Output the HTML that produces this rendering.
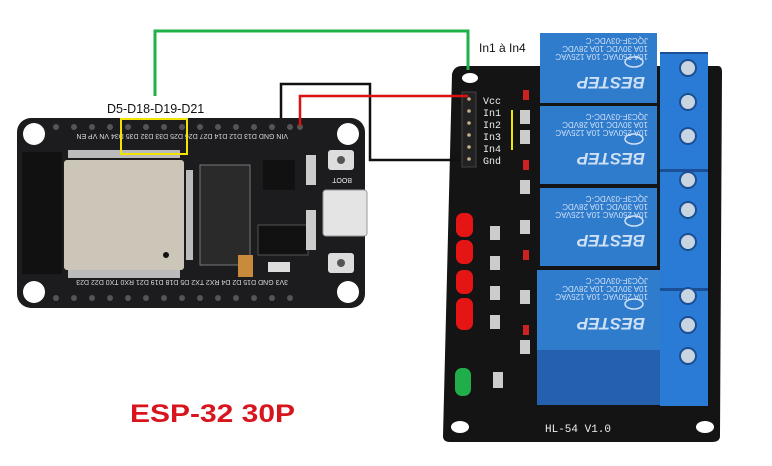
<!DOCTYPE html>
<html><head><meta charset="utf-8"><style>html,body{margin:0;padding:0;background:#fff}svg{display:block}</style></head>
<body>
<svg width="772" height="466" viewBox="0 0 772 466" xmlns="http://www.w3.org/2000/svg" font-family="Liberation Sans, sans-serif">
<rect width="772" height="466" fill="#fff"/>
<!-- ESP32 board -->
<rect x="17" y="118" width="348" height="190" rx="14" fill="#1c1c1e"/>
<g fill="#fff"><circle cx="34" cy="134" r="11"/><circle cx="348" cy="134" r="11"/><circle cx="34" cy="292" r="11"/><circle cx="348" cy="292" r="11"/></g>
<g fill="#555">
<circle cx="56" cy="127" r="3"/><circle cx="74" cy="127" r="3"/><circle cx="92" cy="127" r="3"/><circle cx="110" cy="127" r="3"/><circle cx="128" cy="127" r="3"/><circle cx="146" cy="127" r="3"/><circle cx="164" cy="127" r="3"/><circle cx="182" cy="127" r="3"/><circle cx="200" cy="127" r="3"/><circle cx="218" cy="127" r="3"/><circle cx="236" cy="127" r="3"/><circle cx="254" cy="127" r="3"/><circle cx="272" cy="127" r="3"/><circle cx="290" cy="127" r="3"/><circle cx="300" cy="127" r="3"/>
<circle cx="56" cy="298" r="3"/><circle cx="74" cy="298" r="3"/><circle cx="92" cy="298" r="3"/><circle cx="110" cy="298" r="3"/><circle cx="128" cy="298" r="3"/><circle cx="146" cy="298" r="3"/><circle cx="164" cy="298" r="3"/><circle cx="182" cy="298" r="3"/><circle cx="200" cy="298" r="3"/><circle cx="218" cy="298" r="3"/><circle cx="236" cy="298" r="3"/><circle cx="254" cy="298" r="3"/><circle cx="272" cy="298" r="3"/><circle cx="290" cy="298" r="3"/>
</g>
<text x="52" y="140" font-size="7" fill="#ddd" transform="rotate(180 170 137)">VIN GND D13 D12 D14 D27 D26 D25 D33 D32 D35 D34 VN VP EN</text>
<text x="52" y="286" font-size="7" fill="#ddd" transform="rotate(180 170 283)">3V3 GND D15 D2 D4 RX2 TX2 D5 D18 D19 D21 RX0 TX0 D22 D23</text>
<rect x="22" y="152" width="40" height="122" fill="#111"/>
<rect x="64" y="160" width="120" height="110" rx="3" fill="#cbc6b8"/>
<circle cx="166" cy="255" r="3" fill="#111"/>
<g fill="#bbb"><rect x="68" y="150" width="112" height="8"/><rect x="68" y="270" width="112" height="8"/><rect x="186" y="170" width="7" height="90"/></g>
<rect x="200" y="165" width="50" height="100" fill="#2a2a2a" stroke="#777" stroke-width="1"/>
<rect x="263" y="160" width="32" height="30" fill="#111"/>
<rect x="258" y="225" width="50" height="30" fill="#111" stroke="#555"/>
<rect x="238" y="255" width="15" height="22" fill="#c98a3c"/>
<rect x="268" y="262" width="22" height="10" fill="#ddd"/>
<rect x="328" y="150" width="26" height="20" rx="3" fill="#ddd"/><circle cx="341" cy="160" r="4" fill="#555"/>
<rect x="323" y="190" width="44" height="46" rx="3" fill="#e4e4e4" stroke="#999"/>
<rect x="328" y="253" width="26" height="20" rx="3" fill="#ddd"/><circle cx="341" cy="263" r="4" fill="#555"/>
<text x="334" y="182" font-size="7" fill="#eee" transform="rotate(180 343 180)">BOOT</text>
<rect x="306" y="155" width="10" height="30" fill="#ccc"/><rect x="306" y="210" width="10" height="40" fill="#ccc"/>
<rect x="121" y="119" width="66" height="35" fill="none" stroke="#f2e600" stroke-width="2"/>
<!-- relay board -->
<path d="M462 66 L718 66 Q722 66 722 72 L720 436 Q720 442 712 442 L450 442 Q443 442 443 436 L452 74 Q454 66 462 66 Z" fill="#141414"/>
<g fill="#fff"><ellipse cx="460" cy="427" rx="9" ry="6"/><ellipse cx="705" cy="427" rx="9" ry="6"/><ellipse cx="470" cy="78" rx="8" ry="5"/></g>
<rect x="462" y="92" width="14" height="75" fill="#222" stroke="#444"/>
<g fill="#c9b08a"><circle cx="469" cy="99" r="1.8"/><circle cx="469" cy="111" r="1.8"/><circle cx="469" cy="123" r="1.8"/><circle cx="469" cy="135" r="1.8"/><circle cx="469" cy="147" r="1.8"/><circle cx="469" cy="159" r="1.8"/></g>
<g font-family="Liberation Mono, monospace" font-size="10" fill="#eee">
<text x="483" y="104">Vcc</text><text x="483" y="116">In1</text><text x="483" y="128">In2</text><text x="483" y="140">In3</text><text x="483" y="152">In4</text><text x="483" y="164">Gnd</text>
</g>
<line x1="512" y1="110" x2="512" y2="150" stroke="#f2e600" stroke-width="2"/>
<g fill="#ccc"><rect x="520" y="110" width="10" height="14"/><rect x="520" y="130" width="10" height="14"/><rect x="520" y="180" width="10" height="14"/><rect x="520" y="220" width="10" height="14"/><rect x="520" y="290" width="10" height="14"/><rect x="520" y="340" width="10" height="14"/><rect x="490" y="226" width="10" height="14"/><rect x="490" y="256" width="10" height="14"/><rect x="490" y="286" width="10" height="14"/><rect x="490" y="315" width="10" height="14"/><rect x="493" y="372" width="10" height="16"/></g>
<g fill="#c22"><rect x="523" y="90" width="6" height="10"/><rect x="523" y="160" width="6" height="10"/><rect x="523" y="250" width="6" height="10"/><rect x="523" y="325" width="6" height="10"/></g>
<g fill="#e51515"><rect x="456" y="213" width="17" height="24" rx="7"/><rect x="456" y="240" width="17" height="24" rx="7"/><rect x="456" y="270" width="17" height="24" rx="7"/><rect x="456" y="298" width="17" height="32" rx="7"/></g>
<rect x="455" y="368" width="16" height="28" rx="7" fill="#1fae4a"/>
<!-- relays -->
<g fill="#2f7bcc">
<rect x="540" y="33" width="117" height="70"/>
<rect x="540" y="106" width="117" height="78"/>
<rect x="540" y="188" width="117" height="78"/>
<rect x="537" y="270" width="123" height="80"/>
</g>
<rect x="537" y="350" width="123" height="55" fill="#2460ad"/>
<g fill="#cfe0f5" font-weight="bold" font-style="italic">
<text font-size="17" transform="translate(645 77) rotate(180)">BESTEP</text>
<text font-size="17" transform="translate(645 153) rotate(180)">BESTEP</text>
<text font-size="17" transform="translate(645 235) rotate(180)">BESTEP</text>
<text font-size="17" transform="translate(645 318) rotate(180)">BESTEP</text>
</g>
<g fill="#cfe0f5" font-size="8">
<text transform="translate(648 38) rotate(180)">JQC3F-03VDC-C</text>
<text transform="translate(648 46) rotate(180)">10A 30VDC 10A 28VDC</text>
<text transform="translate(648 54) rotate(180)">10A 250VAC 10A 125VAC</text>
<text transform="translate(648 114) rotate(180)">JQC3F-03VDC-C</text>
<text transform="translate(648 122) rotate(180)">10A 30VDC 10A 28VDC</text>
<text transform="translate(648 130) rotate(180)">10A 250VAC 10A 125VAC</text>
<text transform="translate(648 196) rotate(180)">JQC3F-03VDC-C</text>
<text transform="translate(648 204) rotate(180)">10A 30VDC 10A 28VDC</text>
<text transform="translate(648 212) rotate(180)">10A 250VAC 10A 125VAC</text>
<text transform="translate(648 278) rotate(180)">JQC3F-03VDC-C</text>
<text transform="translate(648 286) rotate(180)">10A 30VDC 10A 28VDC</text>
<text transform="translate(648 294) rotate(180)">10A 250VAC 10A 125VAC</text>
</g>
<g fill="none" stroke="#cfe0f5" stroke-width="1.5"><ellipse cx="634" cy="62" rx="9" ry="5"/><ellipse cx="634" cy="139" rx="9" ry="5"/><ellipse cx="634" cy="221" rx="9" ry="5"/><ellipse cx="634" cy="304" rx="9" ry="5"/></g>
<!-- terminals -->
<rect x="660" y="52" width="48" height="354" fill="#2a7bd6"/>
<g fill="#1a4f96"><rect x="660" y="52" width="48" height="2"/><rect x="660" y="169" width="48" height="3"/><rect x="660" y="288" width="48" height="3"/></g>
<g fill="#c8d4e0" stroke="#1a4f96" stroke-width="2">
<circle cx="688" cy="68" r="8"/><circle cx="688" cy="102" r="8"/><circle cx="688" cy="136" r="8"/><circle cx="688" cy="180" r="8"/><circle cx="688" cy="210" r="8"/><circle cx="688" cy="242" r="8"/><circle cx="688" cy="296" r="8"/><circle cx="688" cy="325" r="8"/><circle cx="688" cy="356" r="8"/>
</g>
<text x="545" y="432" font-family="Liberation Mono, monospace" font-size="11" fill="#eee">HL-54 V1.0</text>
<!-- wires -->
<polyline points="155,96 155,31 468,31 468,70" fill="none" stroke="#1fb24a" stroke-width="3"/>
<polyline points="281,118 281,84 370,84 370,160 460,160" fill="none" stroke="#111" stroke-width="2.5"/>
<polyline points="300,126 300,96 468,96" fill="none" stroke="#d11" stroke-width="2.5"/>
<text x="107" y="113" font-size="12.5" fill="#111">D5-D18-D19-D21</text>
<text x="479" y="52" font-size="12" fill="#111">In1 à In4</text>
<text x="130" y="422" font-size="25" font-weight="bold" fill="#d8141c" textLength="165" lengthAdjust="spacingAndGlyphs">ESP-32 30P</text>
</svg>
</body></html>
